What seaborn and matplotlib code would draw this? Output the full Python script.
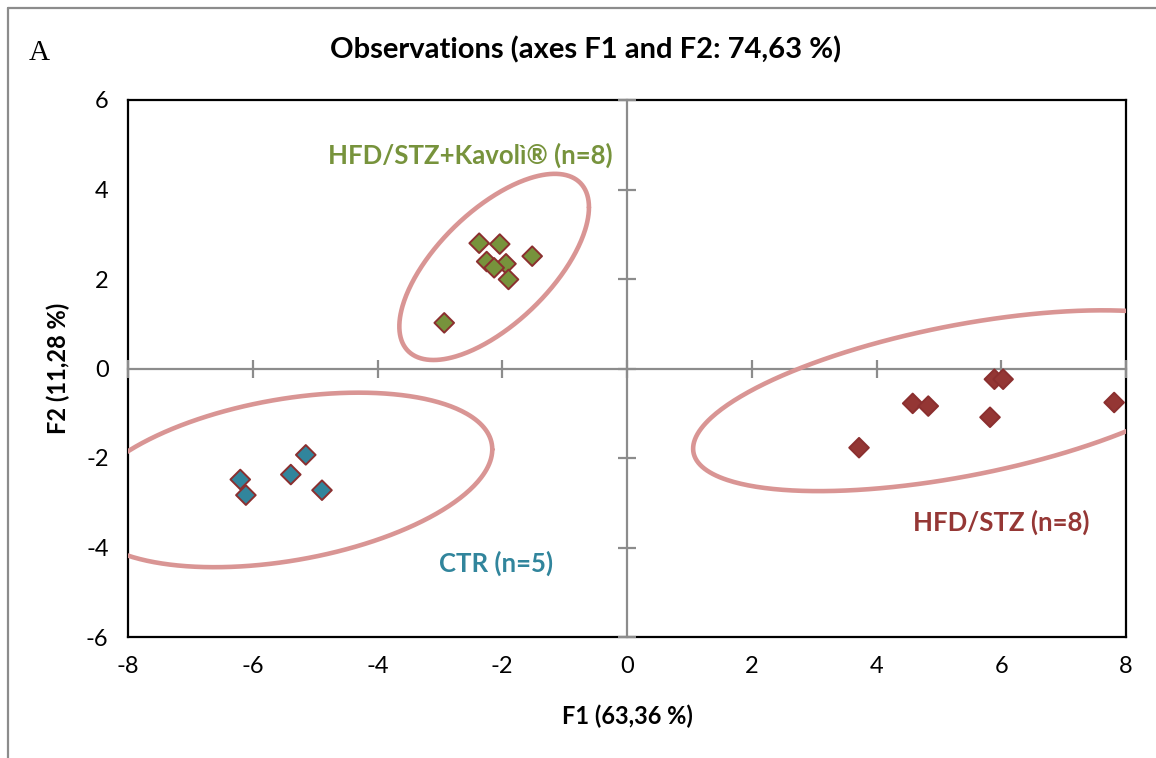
import numpy as np
import pandas as pd
import matplotlib
matplotlib.use("Agg")
import matplotlib.pyplot as plt
from matplotlib.lines import Line2D
import seaborn as sns

# ---- data ----
groups = ["HFD/STZ+Kavolì®", "HFD/STZ", "CTR"]
green_f1 = [-2.37, -2.04, -1.52, -2.25, -1.94, -2.13, -1.90, -2.93]
green_f2 = [2.80, 2.78, 2.51, 2.39, 2.34, 2.25, 1.99, 1.02]
red_f1 = [3.72, 4.58, 4.83, 5.82, 5.89, 6.03, 7.81]
red_f2 = [-1.77, -0.78, -0.84, -1.09, -0.24, -0.24, -0.76]
blue_f1 = [-6.20, -6.11, -5.39, -5.15, -4.89]
blue_f2 = [-2.48, -2.83, -2.37, -1.93, -2.72]

# confidence ellipses: centre, spread along F1, spread along F2, correlation
ell_cx = [-2.13, 5.35, -5.46]
ell_cy = [2.27, -0.72, -2.49]
ell_sx = [1.52, 4.29, 3.30]
ell_sy = [2.08, 2.02, 1.95]
ell_rho = [0.64, 0.53, 0.35]

group_labels = ["HFD/STZ+Kavolì® (n=8)", "HFD/STZ (n=8)", "CTR (n=5)"]
label_x = [-2.52, 6.0, -2.10]
label_y = [4.77, -3.43, -4.35]

xticks = [-8, -6, -4, -2, 0, 2, 4, 6, 8]
yticks = [-6, -4, -2, 0, 2, 4, 6]

title = "Observations (axes F1 and F2: 74,63 %)"
xlabel = "F1 (63,36 %)"
ylabel = "F2 (11,28 %)"

fill_colors = ["#77933C", "#943634", "#31859C"]
text_colors = ["#77933C", "#953735", "#31859C"]
edge_color = "#8B2F2F"
ellipse_color = "#D99594"

# ---- build table ----
df = pd.DataFrame({
    "F1": green_f1 + red_f1 + blue_f1,
    "F2": green_f2 + red_f2 + blue_f2,
    "group": [groups[0]] * len(green_f1) + [groups[1]] * len(red_f1) + [groups[2]] * len(blue_f1),
})

sns.set_style("white")
plt.rcParams["font.family"] = ["Lato", "DejaVu Sans"]
plt.rcParams["axes.unicode_minus"] = False
plt.rcParams["text.color"] = "black"
plt.rcParams["axes.labelcolor"] = "black"

fig = plt.figure(figsize=(11.56, 7.58), dpi=100)
pos = [128 / 1156, 1 - 637 / 758, (1126 - 128) / 1156, (637 - 100) / 758]
ax = fig.add_axes(pos)
ax2 = fig.add_axes(pos, sharex=ax, sharey=ax)
ax2.patch.set_visible(False)

ax.set_xlim(-8, 8)
ax.set_ylim(-6, 6)
ax.set_xticks(xticks)
ax.set_yticks(yticks)
ax.tick_params(length=0, labelsize=17, pad=14, colors="black")
for s in ax.spines.values():
    s.set_color("black")
    s.set_linewidth(1.6)
    s.set_visible(True)

# central axes lines with crossing ticks
for side in ["top", "right"]:
    ax2.spines[side].set_visible(False)
ax2.spines["left"].set_position(("data", 0))
ax2.spines["bottom"].set_position(("data", 0))
for side in ["left", "bottom"]:
    ax2.spines[side].set_color("#8C8C8C")
    ax2.spines[side].set_linewidth(1.6)
ax2.tick_params(direction="inout", length=13, width=1.6, color="#8C8C8C",
                labelleft=False, labelbottom=False, left=True, bottom=True)

# ellipses
t = np.linspace(0, 2 * np.pi, 400)
for cx, cy, sx, sy, r in zip(ell_cx, ell_cy, ell_sx, ell_sy, ell_rho):
    ex = cx + sx * np.cos(t)
    ey = cy + sy * (r * np.cos(t) + np.sqrt(1 - r * r) * np.sin(t))
    ax2.plot(ex, ey, color=ellipse_color, lw=3.3, solid_capstyle="round", zorder=3)

sns.scatterplot(data=df, x="F1", y="F2", hue="group", hue_order=groups,
                palette=fill_colors, marker="D", s=100, edgecolor=edge_color,
                linewidth=1.4, legend=False, ax=ax2, zorder=4)
ax2.set_xlabel("")
ax2.set_ylabel("")

for lab, lx, ly, c in zip(group_labels, label_x, label_y, text_colors):
    ax2.text(lx, ly, lab, color=c, fontsize=18.5, fontweight="bold",
             ha="center", va="center", zorder=5)

fig.text(627 / 1156, 1 - 716 / 758, xlabel, ha="center", va="center",
         fontsize=17, fontweight="bold", color="black")
fig.text(58 / 1156, 1 - 368 / 758, ylabel, ha="center", va="center",
         fontsize=17, fontweight="bold", rotation=90, color="black")
fig.text(586 / 1156, 1 - 50 / 758, title, ha="center", va="center",
         fontsize=21, fontweight="bold", color="black")
fig.text(39 / 1156, 1 - 53 / 758, "A", ha="center", va="center",
         fontsize=21, family="Liberation Serif", color="black")

# outer frame (top and left)
fig.add_artist(Line2D([8 / 1156, 1], [1 - 7.5 / 758, 1 - 7.5 / 758],
                      transform=fig.transFigure, color="#8C8C8C", lw=1.6))
fig.add_artist(Line2D([8 / 1156, 8 / 1156], [0, 1 - 7.5 / 758],
                      transform=fig.transFigure, color="#8C8C8C", lw=1.6))

fig.savefig("out.png", dpi=100)
